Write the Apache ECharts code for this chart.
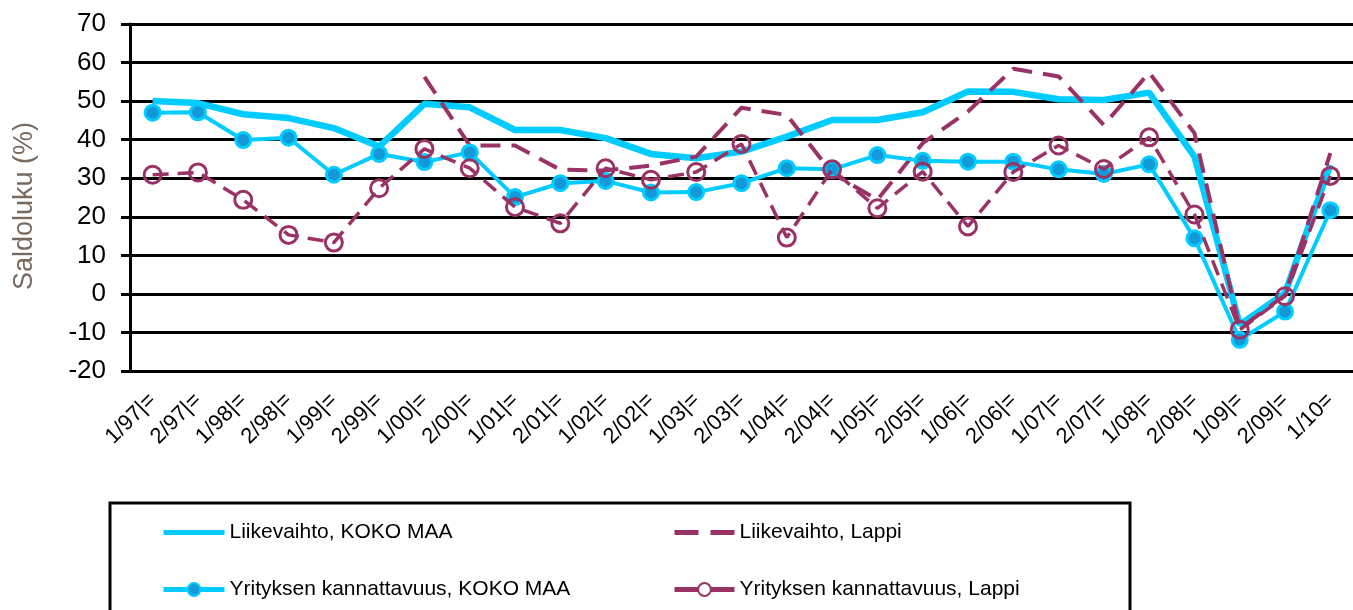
<!DOCTYPE html>
<html>
<head>
<meta charset="utf-8">
<script src="https://cdn.jsdelivr.net/npm/echarts@6/dist/echarts.min.js"></script>
<style>
html,body{margin:0;padding:0;background:#fff;}
#c{width:1353px;height:610px;}
</style>
</head>
<body>
<div id="c"></div>
<script>
const categories = ["1/97|=","2/97|=","1/98|=","2/98|=","1/99|=","2/99|=","1/00|=","2/00|=","1/01|=","2/01|=","1/02|=","2/02|=","1/03|=","2/03|=","1/04|=","2/04|=","1/05|=","2/05|=","1/06|=","2/06|=","1/07|=","2/07|=","1/08|=","2/08|=","1/09|=","2/09|=","1/10="];
const liikevaihtoKoko = [50,49.5,46.6,45.6,43,38.2,49.3,48.4,42.5,42.5,40.4,36.3,35.2,36.9,40.8,45.1,45.1,47.1,52.5,52.4,50.5,50.3,52.2,35.6,-8,0.2,33.5];
const liikevaihtoLappi = [null,null,null,null,null,null,56.3,38.5,38.5,32.2,32,33.3,35.6,48.3,46.4,31.3,24.4,39.1,47.3,58.4,56.4,43.8,57.4,41.7,-9,-0.3,36.5];
const kannattavuusKoko = [47,47.1,39.9,40.5,30.9,36.3,34.2,36.7,25.1,28.7,29.3,26.3,26.4,28.7,32.6,32.3,36,34.5,34.3,34.3,32.3,31.1,33.6,14.4,-11.9,-4.6,21.7];
const kannattavuusLappi = [30.9,31.5,24.4,15.3,13.3,27.4,37.6,32.6,22.5,18.3,32.6,29.6,31.6,38.9,14.6,32.3,22.2,31.7,17.5,31.6,38.5,32.4,40.6,20.6,-9.3,-0.6,30.6];
const seriesNames = ["Liikevaihto, KOKO MAA","Liikevaihto, Lappi","Yrityksen kannattavuus, KOKO MAA","Yrityksen kannattavuus, Lappi"];
const yTitle = "Saldoluku (%)";

const CYAN = "#00CCFF", MAROON = "#993366", BLUE = "#1499D8";
const FONT = 'Liberation Sans, Arial, sans-serif';
const chart = echarts.init(document.getElementById('c'), null, {renderer:'canvas'});
chart.setOption({
  animation:false,
  backgroundColor:'#fff',
  textStyle:{fontFamily:FONT},
  grid:{left:130,right:0,top:24,bottom:239,containLabel:false},
  xAxis:{
    type:'category', data:categories, boundaryGap:true,
    axisLine:{lineStyle:{color:'#000',width:3}},
    axisTick:{show:false},
    axisLabel:{rotate:45,color:'#000',fontSize:22,margin:26,interval:0,fontFamily:FONT},
    splitLine:{show:false}
  },
  yAxis:{
    type:'value', min:-20, max:70, interval:10,
    axisLine:{show:true,lineStyle:{color:'#000',width:3}},
    axisTick:{show:true,inside:false,length:9,lineStyle:{color:'#000',width:3}},
    axisLabel:{color:'#000',fontSize:26,margin:24,fontFamily:FONT},
    splitLine:{show:true,lineStyle:{color:'#000',width:3}}
  },
  legend:[
    {orient:'vertical',left:161,top:522,padding:0,itemWidth:61,itemHeight:16,itemGap:36,
     lineStyle:{width:5},
     textStyle:{fontSize:21,color:'#000',fontFamily:FONT},
     data:[{name:seriesNames[0],itemStyle:{opacity:0}},{name:seriesNames[2]}]},
    {orient:'vertical',left:672,top:522,padding:0,itemWidth:60,itemHeight:16,itemGap:36,
     lineStyle:{width:5},
     textStyle:{fontSize:21,color:'#000',fontFamily:FONT},
     data:[{name:seriesNames[1],itemStyle:{opacity:0},lineStyle:{type:[24,12],width:5}},
           {name:seriesNames[3],itemStyle:{color:'#fff'},lineStyle:{type:'solid',width:5}}]}
  ],
  graphic:[
    {type:'rect',shape:{x:110,y:503,width:1020,height:130},style:{fill:'none',stroke:'#000',lineWidth:3},z:-1},
    {type:'text',x:25,y:206,rotation:Math.PI/2,
     style:{text:yTitle,fill:'#7A6A5E',font:'27px Liberation Sans, Arial, sans-serif',textAlign:'center',textVerticalAlign:'middle'}}
  ],
  series:[
    {name:seriesNames[0],type:'line',data:liikevaihtoKoko,showSymbol:false,symbol:'none',
     lineStyle:{color:CYAN,width:6.5},itemStyle:{color:CYAN},z:2},
    {name:seriesNames[1],type:'line',data:liikevaihtoLappi,showSymbol:false,symbol:'none',
     lineStyle:{color:MAROON,width:4,type:[20,11]},itemStyle:{color:MAROON},z:3},
    {name:seriesNames[2],type:'line',data:kannattavuusKoko,symbol:'circle',symbolSize:15,showSymbol:true,
     lineStyle:{color:CYAN,width:4},itemStyle:{color:BLUE,borderColor:CYAN,borderWidth:3},z:4},
    {name:seriesNames[3],type:'line',data:kannattavuusLappi,symbol:'circle',symbolSize:17,showSymbol:true,
     lineStyle:{color:MAROON,width:3.5,type:[16,9]},itemStyle:{color:'rgba(255,255,255,0)',borderColor:MAROON,borderWidth:3},z:5}
  ]
});
</script>
</body>
</html>
